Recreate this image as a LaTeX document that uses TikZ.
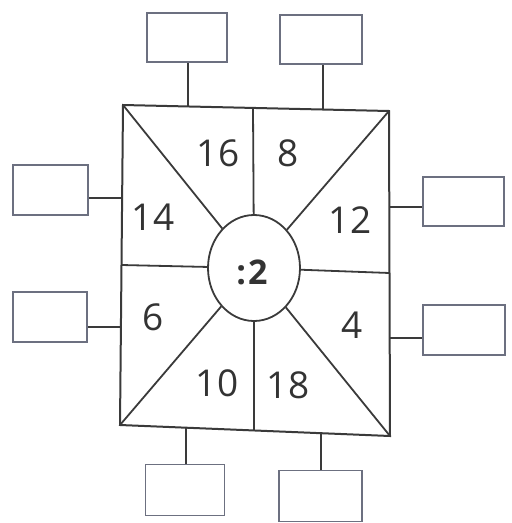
\documentclass[tikz,border=0pt]{standalone}
\usepackage{fontspec}
\setmainfont{Open Sans}
\usetikzlibrary{shapes.geometric}
\definecolor{ink}{HTML}{3A3A3A}
\definecolor{boxline}{HTML}{6C7080}
\definecolor{numcol}{HTML}{333333}
\tikzset{
  frame/.style={draw=ink, line width=2pt, line join=miter},
  part/.style={draw=ink, line width=1.8pt},
  ansbox/.style={draw=boxline, line width=1.4pt, rectangle, minimum width=80pt, minimum height=49pt, inner sep=0pt},
  num/.style={text=numcol, font=\fontsize{37}{40}\selectfont, inner sep=0pt},
  oval/.style={draw=ink, line width=1.8pt, ellipse, minimum width=92pt, minimum height=106pt, inner sep=0pt, fill=white}
}
\begin{document}
\begin{tikzpicture}[x=1pt, y=-1pt]
\useasboundingbox (0,0) rectangle (512,523);
% corners of the big square
\coordinate (TL) at (123,105);
\coordinate (TR) at (389,111);
\coordinate (BR) at (390,436);
\coordinate (BL) at (120,425);
% mid points of the sides
\coordinate (TM) at (253,108);
\coordinate (BM) at (254,431);
\coordinate (LM) at (121.5,265);
\coordinate (RM) at (389.5,273);
% centre oval
\node[oval] (ell) at (254,268) {};
\node[text=numcol, font=\fontsize{34}{36}\selectfont\bfseries, inner sep=0pt] (div) at (252,272) {:\kern2pt 2};
% outline
\draw[frame] (TL) -- (TR) -- (BR) -- (BL) -- cycle;
% spokes
\draw[part] (TL) -- (ell);
\draw[part] (TR) -- (ell);
\draw[part] (BR) -- (ell);
\draw[part] (BL) -- (ell);
\draw[part] (TM) -- (ell);
\draw[part] (BM) -- (ell);
\draw[part] (LM) -- (ell);
\draw[part] (RM) -- (ell);
% numbers
\node[num] (n16) at (218,153) {16};
\node[num] (n8)  at (288,153) {8};
\node[num] (n14) at (153,217) {14};
\node[num] (n12) at (350,220) {12};
\node[num] (n6)  at (153,317) {6};
\node[num] (n4)  at (352,325) {4};
\node[num] (n10) at (217,383) {10};
\node[num] (n18) at (288,385) {18};
% answer boxes
\node[ansbox] (bt1) at (187,37.5) {};
\node[ansbox, minimum width=82pt] (bt2) at (321,39.5) {};
\node[ansbox, minimum width=75pt, minimum height=50pt] (bl1) at (50.5,190) {};
\node[ansbox, minimum width=74pt, minimum height=50pt] (bl2) at (50,317) {};
\node[ansbox, minimum width=81pt] (br1) at (463.5,201.5) {};
\node[ansbox, minimum width=82pt, minimum height=50pt] (br2) at (464,330) {};
\node[ansbox, minimum width=79pt, minimum height=51pt] (bb1) at (185,490) {};
\node[ansbox, minimum width=83pt, minimum height=51pt] (bb2) at (320.5,496) {};
% connector anchors on the square
\coordinate (ct1) at (188,106.5);
\coordinate (ct2) at (323,109.5);
\coordinate (cl1) at (122,198);
\coordinate (cl2) at (121,327);
\coordinate (cr1) at (389.5,207);
\coordinate (cr2) at (389.5,338);
\coordinate (cb1) at (186,427.7);
\coordinate (cb2) at (321,433.2);
% connectors
\draw[part] (ct1) -- (ct1 |- bt1.south);
\draw[part] (ct2) -- (ct2 |- bt2.south);
\draw[part] (cl1) -- (cl1 -| bl1.east);
\draw[part] (cl2) -- (cl2 -| bl2.east);
\draw[part] (cr1) -- (cr1 -| br1.west);
\draw[part] (cr2) -- (cr2 -| br2.west);
\draw[part] (cb1) -- (cb1 |- bb1.north);
\draw[part] (cb2) -- (cb2 |- bb2.north);
\end{tikzpicture}
\end{document}
